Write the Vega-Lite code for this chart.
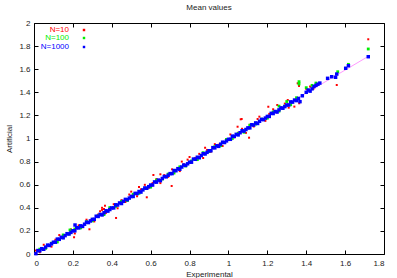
{
"$schema":"https://vega.github.io/schema/vega-lite/v6.json",
"width":350,"height":231,
"autosize":"none",
"padding":{"left":34,"top":23,"right":13,"bottom":24},
"title":{"text":"Mean values","fontSize":8,"fontWeight":"normal","font":"Liberation Sans","offset":7,"color":"#222"},
"datasets":{
"fit":[{"x":0,"y":0},{"x":1.72,"y":1.712}],
"pts":[
{"n":"N=10","x":0.01,"y":0.030},{"n":"N=10","x":0.03,"y":0.015},{"n":"N=10","x":0.05,"y":0.080},{"n":"N=10","x":0.07,"y":0.074},{"n":"N=10","x":0.09,"y":0.064},{"n":"N=10","x":0.11,"y":0.124},{"n":"N=10","x":0.13,"y":0.164},{"n":"N=10","x":0.15,"y":0.139},{"n":"N=10","x":0.17,"y":0.178},{"n":"N=10","x":0.19,"y":0.213},{"n":"N=10","x":0.21,"y":0.178},{"n":"N=10","x":0.23,"y":0.248},{"n":"N=10","x":0.25,"y":0.233},{"n":"N=10","x":0.27,"y":0.297},{"n":"N=10","x":0.29,"y":0.292},{"n":"N=10","x":0.31,"y":0.282},{"n":"N=10","x":0.33,"y":0.342},{"n":"N=10","x":0.35,"y":0.382},{"n":"N=10","x":0.37,"y":0.356},{"n":"N=10","x":0.39,"y":0.396},{"n":"N=10","x":0.41,"y":0.431},{"n":"N=10","x":0.43,"y":0.396},{"n":"N=10","x":0.45,"y":0.466},{"n":"N=10","x":0.47,"y":0.450},{"n":"N=10","x":0.49,"y":0.515},{"n":"N=10","x":0.51,"y":0.510},{"n":"N=10","x":0.53,"y":0.500},{"n":"N=10","x":0.55,"y":0.560},{"n":"N=10","x":0.57,"y":0.599},{"n":"N=10","x":0.59,"y":0.574},{"n":"N=10","x":0.61,"y":0.614},{"n":"N=10","x":0.63,"y":0.649},{"n":"N=10","x":0.65,"y":0.614},{"n":"N=10","x":0.67,"y":0.683},{"n":"N=10","x":0.69,"y":0.668},{"n":"N=10","x":0.71,"y":0.733},{"n":"N=10","x":0.73,"y":0.728},{"n":"N=10","x":0.75,"y":0.718},{"n":"N=10","x":0.77,"y":0.777},{"n":"N=10","x":0.79,"y":0.817},{"n":"N=10","x":0.81,"y":0.792},{"n":"N=10","x":0.83,"y":0.832},{"n":"N=10","x":0.85,"y":0.867},{"n":"N=10","x":0.87,"y":0.831},{"n":"N=10","x":0.89,"y":0.901},{"n":"N=10","x":0.91,"y":0.886},{"n":"N=10","x":0.93,"y":0.951},{"n":"N=10","x":0.95,"y":0.946},{"n":"N=10","x":0.97,"y":0.935},{"n":"N=10","x":0.99,"y":0.995},{"n":"N=10","x":1.01,"y":1.035},{"n":"N=10","x":1.03,"y":1.010},{"n":"N=10","x":1.05,"y":1.050},{"n":"N=10","x":1.07,"y":1.084},{"n":"N=10","x":1.09,"y":1.049},{"n":"N=10","x":1.11,"y":1.119},{"n":"N=10","x":1.13,"y":1.104},{"n":"N=10","x":1.15,"y":1.169},{"n":"N=10","x":1.17,"y":1.163},{"n":"N=10","x":1.19,"y":1.153},{"n":"N=10","x":1.21,"y":1.213},{"n":"N=10","x":1.23,"y":1.253},{"n":"N=10","x":1.25,"y":1.228},{"n":"N=10","x":1.27,"y":1.267},{"n":"N=10","x":1.29,"y":1.302},{"n":"N=10","x":1.31,"y":1.267},
{"n":"N=10","x":0.206,"y":0.145},{"n":"N=10","x":0.285,"y":0.214},{"n":"N=10","x":0.422,"y":0.312},{"n":"N=10","x":0.365,"y":0.418},{"n":"N=10","x":0.58,"y":0.491},{"n":"N=10","x":0.614,"y":0.684},{"n":"N=10","x":0.708,"y":0.589},{"n":"N=10","x":0.35,"y":0.40},{"n":"N=10","x":0.34,"y":0.37},{"n":"N=10","x":0.36,"y":0.39},{"n":"N=10","x":1.205,"y":1.275},{"n":"N=10","x":1.251,"y":1.29},{"n":"N=10","x":1.068,"y":1.169},{"n":"N=10","x":1.047,"y":1.102},{"n":"N=10","x":1.106,"y":1.007},{"n":"N=10","x":1.159,"y":1.189},{"n":"N=10","x":1.356,"y":1.478},{"n":"N=10","x":1.363,"y":1.455},{"n":"N=10","x":1.364,"y":1.305},{"n":"N=10","x":1.339,"y":1.276},{"n":"N=10","x":1.557,"y":1.463},{"n":"N=10","x":1.719,"y":1.859},{"n":"N=10","x":1.437,"y":1.431},{"n":"N=10","x":1.305,"y":1.333},{"n":"N=10","x":1.063,"y":1.166},{"n":"N=10","x":1.40,"y":1.43},{"n":"N=10","x":1.42,"y":1.45},{"n":"N=10","x":0.80,"y":0.84},{"n":"N=10","x":0.76,"y":0.80},{"n":"N=10","x":0.50,"y":0.54},{"n":"N=10","x":0.54,"y":0.58},{"n":"N=10","x":0.65,"y":0.69},{"n":"N=10","x":0.88,"y":0.92},
{"n":"N=100","x":0.03,"y":0.042},{"n":"N=100","x":0.06,"y":0.049},{"n":"N=100","x":0.09,"y":0.093},{"n":"N=100","x":0.12,"y":0.104},{"n":"N=100","x":0.15,"y":0.165},{"n":"N=100","x":0.18,"y":0.174},{"n":"N=100","x":0.21,"y":0.217},{"n":"N=100","x":0.24,"y":0.226},{"n":"N=100","x":0.27,"y":0.279},{"n":"N=100","x":0.30,"y":0.287},{"n":"N=100","x":0.33,"y":0.331},{"n":"N=100","x":0.36,"y":0.341},{"n":"N=100","x":0.39,"y":0.402},{"n":"N=100","x":0.42,"y":0.412},{"n":"N=100","x":0.45,"y":0.455},{"n":"N=100","x":0.48,"y":0.463},{"n":"N=100","x":0.51,"y":0.517},{"n":"N=100","x":0.54,"y":0.525},{"n":"N=100","x":0.57,"y":0.568},{"n":"N=100","x":0.60,"y":0.579},{"n":"N=100","x":0.63,"y":0.640},{"n":"N=100","x":0.66,"y":0.649},{"n":"N=100","x":0.69,"y":0.692},{"n":"N=100","x":0.72,"y":0.701},{"n":"N=100","x":0.75,"y":0.755},{"n":"N=100","x":0.78,"y":0.762},{"n":"N=100","x":0.81,"y":0.806},{"n":"N=100","x":0.84,"y":0.817},{"n":"N=100","x":0.87,"y":0.877},{"n":"N=100","x":0.90,"y":0.887},{"n":"N=100","x":0.93,"y":0.930},{"n":"N=100","x":0.96,"y":0.938},{"n":"N=100","x":0.99,"y":0.992},{"n":"N=100","x":1.02,"y":1.000},{"n":"N=100","x":1.05,"y":1.044},{"n":"N=100","x":1.08,"y":1.054},{"n":"N=100","x":1.11,"y":1.115},{"n":"N=100","x":1.14,"y":1.125},{"n":"N=100","x":1.17,"y":1.167},{"n":"N=100","x":1.20,"y":1.176},{"n":"N=100","x":1.23,"y":1.230},{"n":"N=100","x":1.26,"y":1.237},{"n":"N=100","x":1.29,"y":1.281},{"n":"N=100","x":1.32,"y":1.292},{"n":"N=100","x":1.35,"y":1.353},
{"n":"N=100","x":1.719,"y":1.775},{"n":"N=100","x":1.617,"y":1.642},{"n":"N=100","x":1.562,"y":1.578},{"n":"N=100","x":1.363,"y":1.492},{"n":"N=100","x":1.363,"y":1.472},{"n":"N=100","x":1.40,"y":1.44},{"n":"N=100","x":1.43,"y":1.46},{"n":"N=100","x":1.45,"y":1.48},{"n":"N=100","x":0.185,"y":0.208},{"n":"N=100","x":0.091,"y":0.093},{"n":"N=100","x":1.30,"y":1.32},{"n":"N=100","x":1.26,"y":1.28},
{"n":"N=1000","x":0.01,"y":0.003},{"n":"N=1000","x":0.02,"y":0.030},{"n":"N=1000","x":0.03,"y":0.028},{"n":"N=1000","x":0.04,"y":0.046},{"n":"N=1000","x":0.05,"y":0.041},{"n":"N=1000","x":0.06,"y":0.060},{"n":"N=1000","x":0.07,"y":0.077},{"n":"N=1000","x":0.08,"y":0.074},{"n":"N=1000","x":0.09,"y":0.088},{"n":"N=1000","x":0.10,"y":0.102},
{"n":"N=1000","x":0.11,"y":0.102},{"n":"N=1000","x":0.12,"y":0.129},{"n":"N=1000","x":0.13,"y":0.127},{"n":"N=1000","x":0.14,"y":0.145},{"n":"N=1000","x":0.15,"y":0.140},{"n":"N=1000","x":0.16,"y":0.159},{"n":"N=1000","x":0.17,"y":0.176},{"n":"N=1000","x":0.18,"y":0.173},{"n":"N=1000","x":0.19,"y":0.187},{"n":"N=1000","x":0.20,"y":0.201},
{"n":"N=1000","x":0.21,"y":0.201},{"n":"N=1000","x":0.22,"y":0.228},{"n":"N=1000","x":0.23,"y":0.226},{"n":"N=1000","x":0.24,"y":0.244},{"n":"N=1000","x":0.25,"y":0.239},{"n":"N=1000","x":0.26,"y":0.258},{"n":"N=1000","x":0.27,"y":0.275},{"n":"N=1000","x":0.28,"y":0.272},{"n":"N=1000","x":0.29,"y":0.286},{"n":"N=1000","x":0.30,"y":0.300},
{"n":"N=1000","x":0.31,"y":0.300},{"n":"N=1000","x":0.32,"y":0.327},{"n":"N=1000","x":0.33,"y":0.325},{"n":"N=1000","x":0.34,"y":0.343},{"n":"N=1000","x":0.35,"y":0.338},{"n":"N=1000","x":0.36,"y":0.357},{"n":"N=1000","x":0.37,"y":0.374},{"n":"N=1000","x":0.38,"y":0.371},{"n":"N=1000","x":0.39,"y":0.385},{"n":"N=1000","x":0.40,"y":0.399},
{"n":"N=1000","x":0.41,"y":0.399},{"n":"N=1000","x":0.42,"y":0.426},{"n":"N=1000","x":0.43,"y":0.424},{"n":"N=1000","x":0.44,"y":0.442},{"n":"N=1000","x":0.45,"y":0.437},{"n":"N=1000","x":0.46,"y":0.456},{"n":"N=1000","x":0.47,"y":0.473},{"n":"N=1000","x":0.48,"y":0.470},{"n":"N=1000","x":0.49,"y":0.484},{"n":"N=1000","x":0.50,"y":0.498},
{"n":"N=1000","x":0.51,"y":0.498},{"n":"N=1000","x":0.52,"y":0.525},{"n":"N=1000","x":0.53,"y":0.523},{"n":"N=1000","x":0.54,"y":0.541},{"n":"N=1000","x":0.55,"y":0.536},{"n":"N=1000","x":0.56,"y":0.555},{"n":"N=1000","x":0.57,"y":0.572},{"n":"N=1000","x":0.58,"y":0.569},{"n":"N=1000","x":0.59,"y":0.583},{"n":"N=1000","x":0.60,"y":0.597},
{"n":"N=1000","x":0.61,"y":0.597},{"n":"N=1000","x":0.62,"y":0.624},{"n":"N=1000","x":0.63,"y":0.622},{"n":"N=1000","x":0.64,"y":0.640},{"n":"N=1000","x":0.65,"y":0.635},{"n":"N=1000","x":0.66,"y":0.654},{"n":"N=1000","x":0.67,"y":0.671},{"n":"N=1000","x":0.68,"y":0.668},{"n":"N=1000","x":0.69,"y":0.682},{"n":"N=1000","x":0.70,"y":0.696},
{"n":"N=1000","x":0.71,"y":0.696},{"n":"N=1000","x":0.72,"y":0.723},{"n":"N=1000","x":0.73,"y":0.721},{"n":"N=1000","x":0.74,"y":0.739},{"n":"N=1000","x":0.75,"y":0.734},{"n":"N=1000","x":0.76,"y":0.753},{"n":"N=1000","x":0.77,"y":0.770},{"n":"N=1000","x":0.78,"y":0.767},{"n":"N=1000","x":0.79,"y":0.781},{"n":"N=1000","x":0.80,"y":0.795},
{"n":"N=1000","x":0.81,"y":0.795},{"n":"N=1000","x":0.82,"y":0.822},{"n":"N=1000","x":0.83,"y":0.820},{"n":"N=1000","x":0.84,"y":0.838},{"n":"N=1000","x":0.85,"y":0.833},{"n":"N=1000","x":0.86,"y":0.852},{"n":"N=1000","x":0.87,"y":0.869},{"n":"N=1000","x":0.88,"y":0.866},{"n":"N=1000","x":0.89,"y":0.880},{"n":"N=1000","x":0.90,"y":0.894},
{"n":"N=1000","x":0.91,"y":0.894},{"n":"N=1000","x":0.92,"y":0.921},{"n":"N=1000","x":0.93,"y":0.919},{"n":"N=1000","x":0.94,"y":0.937},{"n":"N=1000","x":0.95,"y":0.932},{"n":"N=1000","x":0.96,"y":0.951},{"n":"N=1000","x":0.97,"y":0.968},{"n":"N=1000","x":0.98,"y":0.965},{"n":"N=1000","x":0.99,"y":0.979},{"n":"N=1000","x":1.00,"y":0.993},
{"n":"N=1000","x":1.01,"y":0.993},{"n":"N=1000","x":1.02,"y":1.020},{"n":"N=1000","x":1.03,"y":1.018},{"n":"N=1000","x":1.04,"y":1.036},{"n":"N=1000","x":1.05,"y":1.031},{"n":"N=1000","x":1.06,"y":1.050},{"n":"N=1000","x":1.07,"y":1.067},{"n":"N=1000","x":1.08,"y":1.064},{"n":"N=1000","x":1.09,"y":1.078},{"n":"N=1000","x":1.10,"y":1.092},
{"n":"N=1000","x":1.11,"y":1.092},{"n":"N=1000","x":1.12,"y":1.119},{"n":"N=1000","x":1.13,"y":1.117},{"n":"N=1000","x":1.14,"y":1.135},{"n":"N=1000","x":1.15,"y":1.130},{"n":"N=1000","x":1.16,"y":1.149},{"n":"N=1000","x":1.17,"y":1.166},{"n":"N=1000","x":1.18,"y":1.163},{"n":"N=1000","x":1.19,"y":1.177},{"n":"N=1000","x":1.20,"y":1.191},
{"n":"N=1000","x":1.21,"y":1.191},{"n":"N=1000","x":1.22,"y":1.218},{"n":"N=1000","x":1.23,"y":1.216},{"n":"N=1000","x":1.24,"y":1.234},{"n":"N=1000","x":1.25,"y":1.229},{"n":"N=1000","x":1.26,"y":1.248},{"n":"N=1000","x":1.27,"y":1.265},{"n":"N=1000","x":1.28,"y":1.262},{"n":"N=1000","x":1.29,"y":1.276},{"n":"N=1000","x":1.30,"y":1.290},
{"n":"N=1000","x":1.31,"y":1.290},{"n":"N=1000","x":1.32,"y":1.317},{"n":"N=1000","x":1.33,"y":1.315},{"n":"N=1000","x":1.34,"y":1.333},{"n":"N=1000","x":1.35,"y":1.328},{"n":"N=1000","x":1.36,"y":1.347},
{"n":"N=1000","x":1.38,"y":1.37},{"n":"N=1000","x":1.40,"y":1.40},{"n":"N=1000","x":1.41,"y":1.42},{"n":"N=1000","x":1.43,"y":1.43},{"n":"N=1000","x":1.44,"y":1.45},{"n":"N=1000","x":1.45,"y":1.46},{"n":"N=1000","x":1.46,"y":1.47},{"n":"N=1000","x":1.47,"y":1.48},{"n":"N=1000","x":1.368,"y":1.319},{"n":"N=1000","x":1.51,"y":1.521},{"n":"N=1000","x":1.531,"y":1.535},{"n":"N=1000","x":1.551,"y":1.53},{"n":"N=1000","x":1.557,"y":1.558},{"n":"N=1000","x":1.603,"y":1.608},{"n":"N=1000","x":1.617,"y":1.63},{"n":"N=1000","x":1.719,"y":1.708},{"n":"N=1000","x":1.42,"y":1.41},{"n":"N=1000","x":0.211,"y":0.251}
]},
"layer":[
{"data":{"name":"fit"},"mark":{"type":"line","color":"#ff99ff","strokeWidth":1},
 "encoding":{
  "x":{"field":"x","type":"quantitative","scale":{"domain":[0,1.8],"nice":false},"axis":{"orient":"top","labels":false,"title":null,"values":[0,0.2,0.4,0.6,0.8,1,1.2,1.4,1.6,1.8]}},
  "y":{"field":"y","type":"quantitative","scale":{"domain":[0,2],"nice":false},"axis":{"orient":"right","labels":false,"title":null,"values":[0,0.2,0.4,0.6,0.8,1,1.2,1.4,1.6,1.8,2]}}}},
{"data":{"name":"pts"},"transform":[{"filter":"datum.n == 'N=10'"}],"mark":{"type":"point","shape":"square","filled":true,"opacity":1,"size":4},
 "encoding":{
  "x":{"field":"x","type":"quantitative","scale":{"domain":[0,1.8],"nice":false},"axis":{"orient":"bottom","title":"Experimental","format":"~g","values":[0,0.2,0.4,0.6,0.8,1,1.2,1.4,1.6,1.8],"labelPadding":9,"titlePadding":3}},
  "y":{"field":"y","type":"quantitative","scale":{"domain":[0,2],"nice":false},"axis":{"orient":"left","title":"Artificial","format":"~g","values":[0,0.2,0.4,0.6,0.8,1,1.2,1.4,1.6,1.8,2],"labelPadding":8,"titlePadding":5}},
  "color":{"field":"n","type":"nominal","scale":{"domain":["N=10"],"range":["#ff0000"]},
   "legend":{"title":null,"orient":"none","legendX":46,"legendY":3,"padding":0,"symbolType":"square","symbolSize":6,"labelFontSize":8,"labelFont":"Liberation Sans","labelAlign":"right","labelOffset":-19,"labelColor":"#ff0000"}}}},
{"data":{"name":"pts"},"transform":[{"filter":"datum.n == 'N=100'"}],"mark":{"type":"point","shape":"square","filled":true,"opacity":1,"size":8},
 "encoding":{
  "x":{"field":"x","type":"quantitative","scale":{"domain":[0,1.8],"nice":false},"axis":null},
  "y":{"field":"y","type":"quantitative","scale":{"domain":[0,2],"nice":false},"axis":null},
  "color":{"field":"n","type":"nominal","scale":{"domain":["N=100"],"range":["#00ee00"]},
   "legend":{"title":null,"orient":"none","legendX":46,"legendY":11,"padding":0,"symbolType":"square","symbolSize":6,"labelFontSize":8,"labelFont":"Liberation Sans","labelAlign":"right","labelOffset":-19,"labelColor":"#00ee00"}}}},
{"data":{"name":"pts"},"transform":[{"filter":"datum.n == 'N=1000'"}],"mark":{"type":"point","shape":"square","filled":true,"opacity":1,"size":12},
 "encoding":{
  "x":{"field":"x","type":"quantitative","scale":{"domain":[0,1.8],"nice":false},"axis":null},
  "y":{"field":"y","type":"quantitative","scale":{"domain":[0,2],"nice":false},"axis":null},
  "color":{"field":"n","type":"nominal","scale":{"domain":["N=1000"],"range":["#0000ff"]},
   "legend":{"title":null,"orient":"none","legendX":46,"legendY":20,"padding":0,"symbolType":"square","symbolSize":6,"labelFontSize":8,"labelFont":"Liberation Sans","labelAlign":"right","labelOffset":-19,"labelColor":"#0000ff"}}}}
],
"resolve":{"scale":{"x":"independent","y":"independent","color":"independent"},"legend":{"color":"independent"}},
"config":{
 "view":{"stroke":"#000","strokeWidth":1},
 "axis":{"tickSize":-4,"tickColor":"#000","domain":false,"grid":false,"labelFont":"Liberation Sans","labelFontSize":8,"labelColor":"#222","titleFont":"Liberation Sans","titleFontSize":8,"titleFontWeight":"normal","titleColor":"#222"}
}
}
